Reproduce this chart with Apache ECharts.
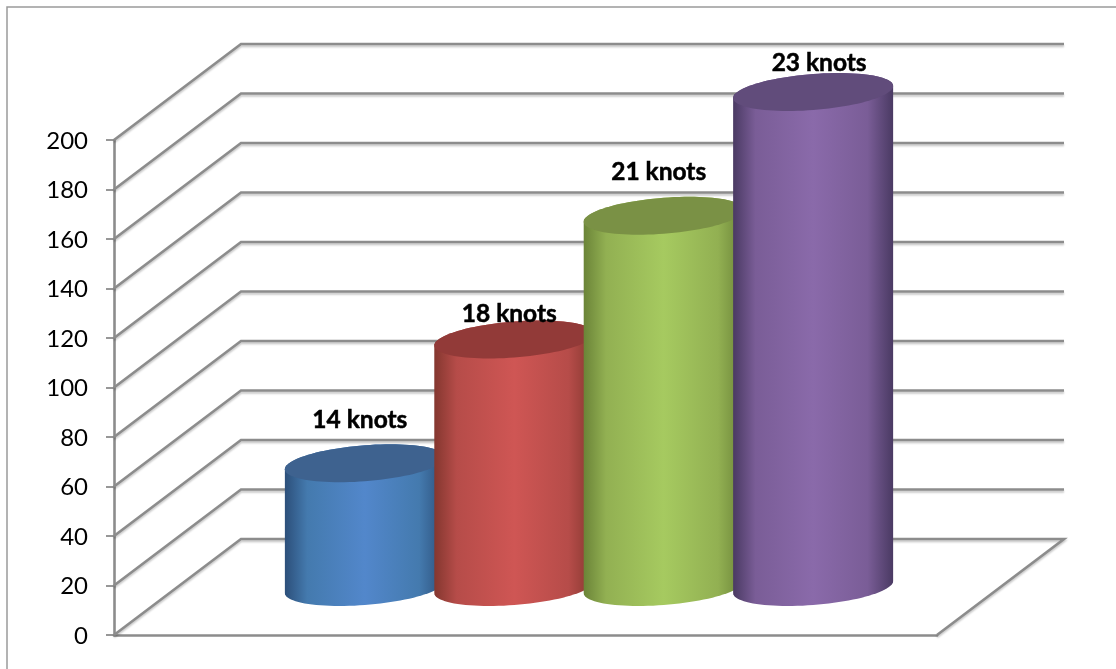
<!DOCTYPE html>
<html>
<head>
<meta charset="utf-8">
<style>
  html, body { margin: 0; padding: 0; background: #fff; overflow: hidden; }
  #chart { width: 1116px; height: 669px; }
</style>
<script src="https://cdn.jsdelivr.net/npm/echarts@6/dist/echarts.min.js"></script>
</head>
<body>
<div id="chart"></div>
<script>
// Cylinder heights and their captions
const categories = [0, 1, 2, 3];
const values = [50, 100, 150, 200];
const captions = ['14 knots', '18 knots', '21 knots', '23 knots'];
const yTicks = [0, 20, 40, 60, 80, 100, 120, 140, 160, 180, 200];

// Cylinder shading: edge, mid, centre, lid
const edgeColors = ['#2c4f7a', '#84372f', '#6b8438', '#4a3a63'];
const midColors = ['#447aae', '#b64c49', '#92b052', '#7a5d97'];
const lightColors = ['#5287cb', '#cf5654', '#a6ca60', '#8a6aaa'];
const lidColors = ['#3e628f', '#923a38', '#7a9145', '#614c7b'];

// Caption placement relative to the lid centre
const captionDx = [-5, -5, -5, 6];
const captionDy = [-43, -25, -44, -29];

// Oblique projection of the chart's depth, and the cylinder cross-section
const DEPTH_X = 127;
const DEPTH_Y = -96;
const RADIUS_X = 80;
const RADIUS_Y = 18;
const SKEW = 6;
const AXIS_GRAY = '#8c8c8c';

// Points along a skewed ellipse between two angles
function ellipsePoints(cx, cy, from, to, steps) {
  const pts = [];
  for (let i = 0; i <= steps; i++) {
    const t = from + (to - from) * i / steps;
    pts.push([cx + RADIUS_X * Math.cos(t), cy - SKEW * Math.cos(t) + RADIUS_Y * Math.sin(t)]);
  }
  return pts;
}

function renderWall(params, api) {
  const v = api.value(0);
  const front = api.coord([api.value(1), v]);
  const end = api.coord([api.value(2), v]);
  const points = [
    front,
    [front[0] + DEPTH_X, front[1] + DEPTH_Y],
    [end[0] + DEPTH_X, end[1] + DEPTH_Y]
  ];
  if (v === 0) points.push(end);
  return {
    type: 'polyline',
    shape: { points },
    style: {
      fill: 'none',
      stroke: AXIS_GRAY,
      lineWidth: 2.6,
      shadowColor: 'rgba(0,0,0,0.22)',
      shadowBlur: 2,
      shadowOffsetY: 2
    }
  };
}

function renderCylinder(params, api) {
  const i = params.dataIndex;
  const base = api.coord([api.value(0), 0]);
  const top = api.coord([api.value(0), api.value(1)]);
  const cx = base[0] + DEPTH_X / 2;
  const baseY = base[1] + DEPTH_Y / 2;
  const topY = top[1] + DEPTH_Y / 2;
  // The body runs under the whole lid so no seam shows along the rim
  const body = ellipsePoints(cx, baseY, 0, Math.PI, 48)
    .concat(ellipsePoints(cx, topY, Math.PI, Math.PI * 2, 48));
  const fill = new echarts.graphic.LinearGradient(0, 0, 1, 0, [
    { offset: 0, color: edgeColors[i] },
    { offset: 0.14, color: midColors[i] },
    { offset: 0.5, color: lightColors[i] },
    { offset: 0.84, color: midColors[i] },
    { offset: 1, color: edgeColors[i] }
  ]);
  return {
    type: 'group',
    children: [
      { type: 'polygon', shape: { points: body }, style: { fill } },
      {
        type: 'polygon',
        shape: { points: ellipsePoints(cx, topY, 0, Math.PI * 2, 96) },
        style: { fill: lidColors[i] }
      }
    ]
  };
}

function renderCaption(params, api) {
  const i = params.dataIndex;
  const top = api.coord([api.value(0), api.value(1)]);
  return {
    type: 'text',
    x: top[0] + DEPTH_X / 2 + captionDx[i],
    y: top[1] + DEPTH_Y / 2 + captionDy[i],
    style: {
      text: captions[i],
      fill: '#000',
      stroke: '#000',
      lineWidth: 0.5,
      font: 'bold 24.5px Lato',
      align: 'center',
      verticalAlign: 'middle'
    }
  };
}

const xMin = -1.254;
const xMax = 4.254;

const chart = echarts.init(document.getElementById('chart'), null, { renderer: 'canvas' });
chart.setOption({
  animation: false,
  backgroundColor: '#fff',
  graphic: [{
    type: 'rect',
    silent: true,
    shape: { x: 7, y: 7, width: 1200, height: 800 },
    style: { fill: 'none', stroke: '#9a9a9a', lineWidth: 1.5 }
  }],
  grid: { left: 114, top: 140, width: 823, height: 495 },
  xAxis: {
    type: 'value',
    min: xMin,
    max: xMax,
    splitLine: { show: false },
    axisTick: { show: false },
    axisLabel: { show: false },
    axisLine: { show: true, onZero: false, lineStyle: { color: AXIS_GRAY, width: 2.6 } }
  },
  yAxis: {
    type: 'value',
    min: 0,
    max: 200,
    interval: 20,
    splitLine: { show: false },
    axisLine: { show: true, onZero: false, lineStyle: { color: AXIS_GRAY, width: 2.6 } },
    axisTick: { show: true, length: 8, lineStyle: { color: AXIS_GRAY, width: 1.8 } },
    axisLabel: { margin: 26, color: '#000', fontFamily: 'Lato', fontSize: 24, verticalAlign: 'top', lineHeight: 2 }
  },
  series: [
    {
      type: 'custom',
      coordinateSystem: 'cartesian2d',
      clip: false,
      renderItem: renderWall,
      encode: { x: [1, 2], y: 0 },
      data: yTicks.map(v => [v, xMin, xMax]),
      silent: true,
      z: 1
    },
    {
      type: 'custom',
      coordinateSystem: 'cartesian2d',
      clip: false,
      renderItem: renderCylinder,
      encode: { x: 0, y: 1 },
      data: categories.map((c, i) => [c, values[i]]),
      silent: true,
      z: 3
    },
    {
      type: 'custom',
      coordinateSystem: 'cartesian2d',
      clip: false,
      renderItem: renderCaption,
      encode: { x: 0, y: 1 },
      data: categories.map((c, i) => [c, values[i]]),
      silent: true,
      z: 4
    }
  ]
});
</script>
</body>
</html>
